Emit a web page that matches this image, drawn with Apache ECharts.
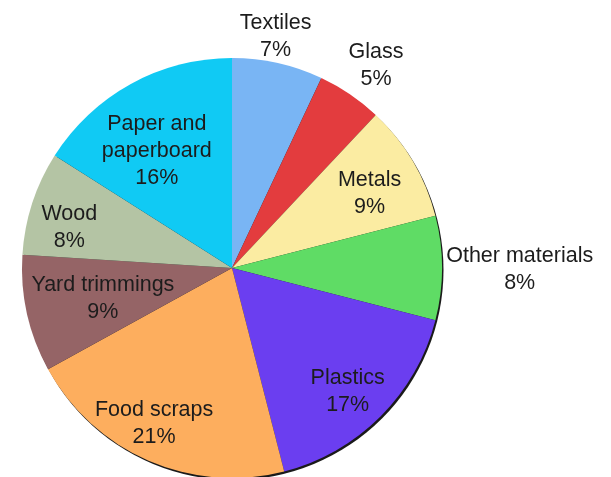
<!DOCTYPE html>
<html>
<head>
<meta charset="utf-8">
<script src="https://cdn.jsdelivr.net/npm/echarts@6/dist/echarts.min.js"></script>
<style>
html,body{margin:0;padding:0;background:#fff;}
#c{width:611px;height:477px;}
</style>
</head>
<body>
<div id="c"></div>
<script>
// Data
var categories = ['Textiles', 'Glass', 'Metals', 'Other materials', 'Plastics', 'Food scraps', 'Yard trimmings', 'Wood', 'Paper and\npaperboard'];
var percents = [7, 5, 9, 8, 17, 21, 9, 8, 16];

// Styles (not data)
var colors = ['#79b5f4', '#e33c3e', '#fbeca2', '#5fdc65', '#6b3ef0', '#fdae5e', '#956466', '#b4c4a4', '#10caf4'];
var labelRadius = [1.13, 1.19, 0.75, 1.37, 0.80, 0.82, 0.63, 0.80, 0.67];
var labelAngleAdj = [-2, 1, 1.5, 0, 1.5, 3.5, 0, -3.5, -3.5];

var CX = 232, CY = 268, R = 210;
var total = percents.reduce(function (a, b) { return a + b; }, 0);

var chart = echarts.init(document.getElementById('c'), null, {renderer: 'canvas'});
chart.setOption({
  animation: false,
  backgroundColor: '#ffffff',
  series: [
    {
      type: 'pie',
      silent: true,
      center: [CX + 1.5, CY + 2],
      radius: R,
      label: {show: false},
      labelLine: {show: false},
      itemStyle: {color: '#1a1a1a'},
      data: [{value: total, name: 'shadow'}],
      z: 1
    },
    {
      type: 'pie',
      center: [CX, CY],
      radius: R,
      startAngle: 90,
      clockwise: true,
      avoidLabelOverlap: false,
      z: 2,
      itemStyle: {borderWidth: 0},
      labelLine: {show: false},
      label: {
        show: true,
        position: 'inside',
        fontFamily: 'Liberation Sans, Arial, Helvetica, sans-serif',
        fontSize: 21.5,
        lineHeight: 27,
        color: '#1c1c1c',
        align: 'center',
        formatter: function (p) { return p.name + '\n' + p.value + '%'; }
      },
      labelLayout: function (params) {
        var i = params.dataIndex;
        var cum = 0;
        for (var k = 0; k < i; k++) cum += percents[k];
        var mid = (cum + percents[i] / 2) / total * 360 + labelAngleAdj[i];
        var a = mid * Math.PI / 180;
        var rr = labelRadius[i] * R;
        return {
          x: CX + rr * Math.sin(a),
          y: CY + 2 - rr * Math.cos(a),
          align: 'center',
          verticalAlign: 'middle'
        };
      },
      data: categories.map(function (c, i) {
        return {name: c, value: percents[i], itemStyle: {color: colors[i]}};
      })
    }
  ]
});
</script>
</body>
</html>
